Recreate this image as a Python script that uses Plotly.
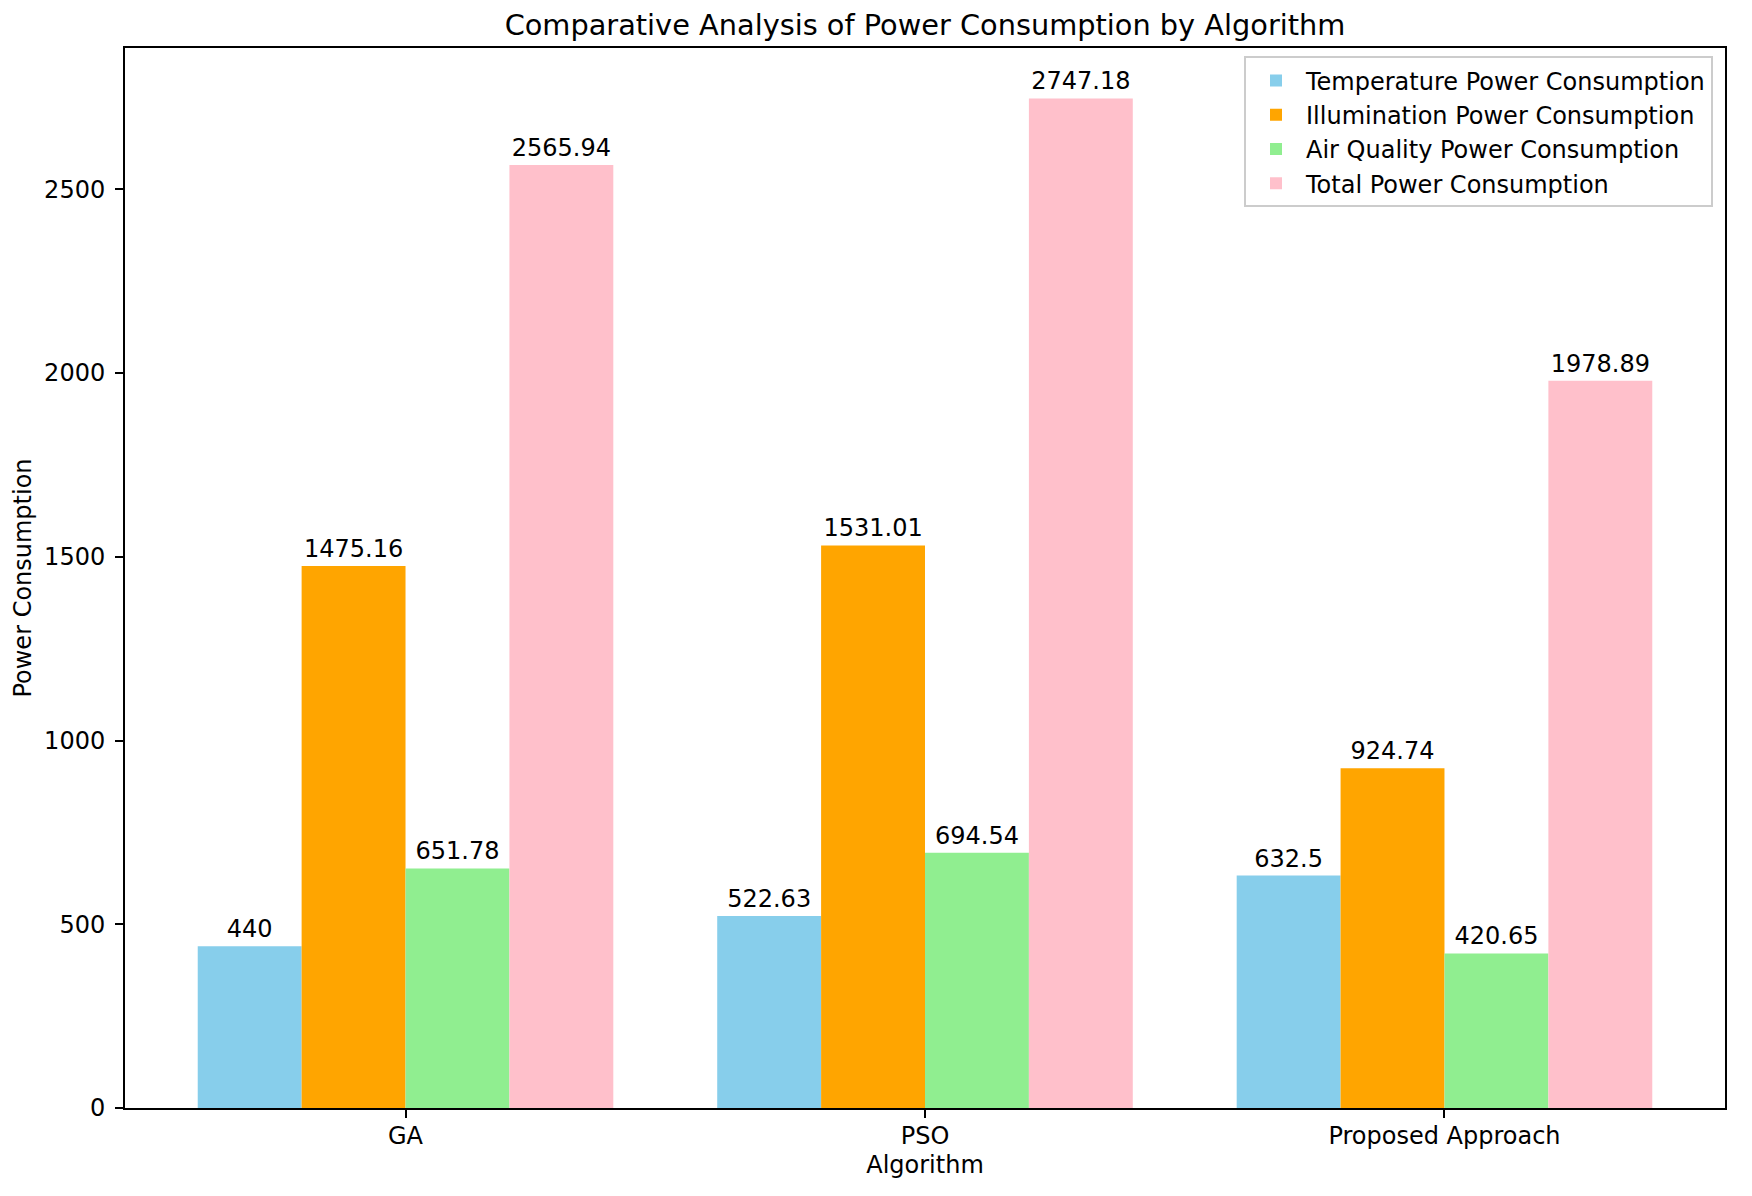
import plotly.graph_objects as go

categories = ["GA", "PSO", "Proposed Approach"]
temperature = [440, 522.63, 632.5]
illumination = [1475.16, 1531.01, 924.74]
air_quality = [651.78, 694.54, 420.65]
total = [2565.94, 2747.18, 1978.89]
series_names = ["Temperature Power Consumption", "Illumination Power Consumption",
                "Air Quality Power Consumption", "Total Power Consumption"]
colors = ["#87CEEB", "#FFA500", "#90EE90", "#FFC0CB"]
y_ticks = [0, 500, 1000, 1500, 2000, 2500]

FONT = "DejaVu Sans"
FS = 24
W, H = 1752, 1196
L, R, T, B = 117, 35, 40, 96

fig = go.Figure()
for name, vals, col in zip(series_names, [temperature, illumination, air_quality, total], colors):
    fig.add_trace(go.Bar(
        x=categories, y=vals, name=name, marker_color=col, marker_line_width=0,
        text=[f"{v:g}" for v in vals], textposition="outside",
        textfont=dict(family=FONT, size=FS, color="black"),
        cliponaxis=False,
    ))

ymax = max(total) * 1.05
fig.update_layout(
    width=W, height=H,
    margin=dict(l=L, r=R, t=T, b=B, pad=0),
    paper_bgcolor="white", plot_bgcolor="white",
    font=dict(family=FONT, size=FS, color="black"),
    barmode="group", bargap=0.2, bargroupgap=0,
    uniformtext=dict(minsize=FS, mode="show"),
    title=dict(text="Comparative Analysis of Power Consumption by Algorithm",
               x=(L + (W - R)) / 2 / W, xanchor="center", y=1 - 17 / H, yanchor="middle",
               font=dict(family=FONT, size=28.8, color="black")),
    legend=dict(x=0.9925, xanchor="right", y=0.992, yanchor="top",
                bordercolor="#cccccc", borderwidth=2, bgcolor="rgba(255,255,255,0.8)",
                font=dict(family=FONT, size=FS, color="black"),
                itemwidth=50, tracegroupgap=0),
    xaxis=dict(range=[-0.54, 2.54], showline=True, linecolor="black", linewidth=2,
               mirror=True, ticks="outside", ticklen=8, tickwidth=2, tickcolor="black",
               ticklabelstandoff=-3,
               showgrid=False, title=dict(text="Algorithm", standoff=7,
                                          font=dict(family=FONT, size=FS))),
    yaxis=dict(range=[0, ymax], tickvals=y_ticks, showline=True, linecolor="black",
               linewidth=2, mirror=True, ticks="outside", ticklen=8, tickwidth=2,
               tickcolor="black", showgrid=False, zeroline=False, ticklabelstandoff=5,
               title=dict(text="Power Consumption", standoff=6,
                          font=dict(family=FONT, size=FS))),
)
fig.write_html("out.html")
